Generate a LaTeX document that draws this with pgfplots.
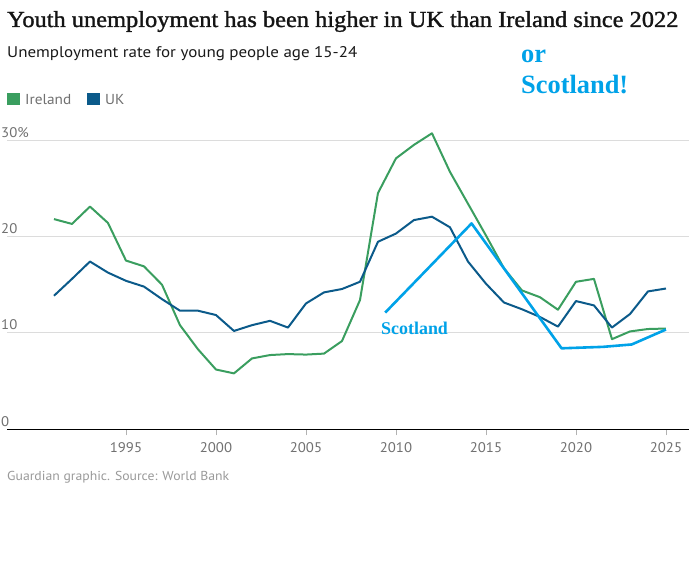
\documentclass[border=0pt]{standalone}
\usepackage{fontspec}
\setmainfont{PT Sans}
\newfontfamily\titlefont[FakeStretch=1.065,FakeBold=1.3]{Liberation Serif}
\newfontfamily\subfont[FakeStretch=1.1]{PT Sans}
\newfontfamily\footfont[FakeStretch=1.06]{PT Sans}
\newfontfamily\paintfont{Liberation Serif}
\usepackage{pgfplots}
\pgfplotsset{compat=1.18}
\definecolor{irl}{HTML}{3A9E5F}
\definecolor{uk}{HTML}{0B5A8A}
\definecolor{scot}{HTML}{00A2E8}
\definecolor{txtgray}{HTML}{707070}
\definecolor{footgray}{HTML}{999999}
\definecolor{gridgray}{HTML}{DCDCDC}
\begin{document}
\begin{tikzpicture}
\useasboundingbox (0bp,0bp) rectangle (689bp,561bp);
\node[anchor=base west, inner sep=0pt, text=black!92, font=\titlefont\fontsize{23}{23}\selectfont] at (7bp,534bp) {Youth unemployment has been higher in UK than Ireland since 2022};
\node[anchor=base west, inner sep=0pt, text=black!90, font=\subfont\fontsize{15.5}{15.5}\selectfont] at (7bp,503.7bp) {Unemployment rate for young people age 15-24};
\fill[irl] (7bp,456bp) rectangle (20bp,468bp);
\node[anchor=base west, inner sep=0pt, text=txtgray, font=\footfont\fontsize{14.5}{14.5}\selectfont] at (25bp,456bp) {Ireland};
\fill[uk] (87bp,456bp) rectangle (100bp,468bp);
\node[anchor=base west, inner sep=0pt, text=txtgray, font=\footfont\fontsize{14.5}{14.5}\selectfont] at (105bp,456bp) {UK};
\node[anchor=base west, inner sep=0pt, text=footgray, font=\footfont\fontsize{13}{13}\selectfont] at (7bp,80bp) {Guardian graphic. Source: World Bank};
\node[anchor=base west, inner sep=0pt, text=scot, font=\paintfont\bfseries\fontsize{26.5}{26.5}\selectfont] at (521bp,498bp) {or};
\node[anchor=base west, inner sep=0pt, text=scot, font=\paintfont\bfseries\fontsize{26.5}{26.5}\selectfont] at (521bp,467bp) {Scotland!};
\begin{axis}[
  at={(7bp,131.7bp)}, anchor=south west, scale only axis,
  width=682bp, height=298.9bp,
  xmin=1988.39, xmax=2026.28, ymin=0, ymax=31,
  clip=false,
  axis x line*=bottom, axis y line*=left,
  x axis line style={-, black, line width=1.4bp},
  y axis line style={draw=none},
  xtick={1995,2000,...,2025},
  ytick={0,10,20,30},
  yticklabels={0,10,20,30\%},
  ymajorgrids, grid style={gridgray, line width=1bp},
  xtick pos=bottom,
  x tick style={gray!60, line width=0.8bp},
  y tick style={draw=none},
  tick align=outside,
  major tick length=6bp,
  tick label style={font=\footfont\fontsize{14}{14}\selectfont, text=txtgray},
  /pgf/number format/assume math mode=true,
  /pgf/number format/1000 sep={},
  yticklabel style={anchor=base west, inner sep=0pt, xshift=0bp, yshift=3bp},
  xticklabel style={anchor=base, inner sep=0pt, yshift=-17bp},
]
\addplot[irl, line width=2bp, line join=round] coordinates {
(1991,21.8)(1992,21.3)(1993,23.1)(1994,21.4)(1995,17.5)(1996,16.9)(1997,15.0)(1998,10.8)(1999,8.3)(2000,6.2)(2001,5.8)(2002,7.35)(2003,7.7)(2004,7.8)(2005,7.75)(2006,7.85)(2007,9.15)(2008,13.4)(2009,24.5)(2010,28.1)(2011,29.5)(2012,30.7)(2013,26.7)(2014,23.4)(2015,20.1)(2016,16.7)(2017,14.4)(2018,13.7)(2019,12.4)(2020,15.3)(2021,15.6)(2022,9.35)(2023,10.15)(2024,10.4)(2025,10.45)};
\addplot[uk, line width=2bp, line join=round] coordinates {
(1991,13.85)(1992,15.6)(1993,17.4)(1994,16.25)(1995,15.4)(1996,14.8)(1997,13.5)(1998,12.3)(1999,12.3)(2000,11.85)(2001,10.2)(2002,10.8)(2003,11.25)(2004,10.55)(2005,13.05)(2006,14.2)(2007,14.55)(2008,15.3)(2009,19.45)(2010,20.3)(2011,21.7)(2012,22.05)(2013,20.95)(2014,17.4)(2015,15.1)(2016,13.15)(2017,12.45)(2018,11.65)(2019,10.65)(2020,13.3)(2021,12.85)(2022,10.55)(2023,11.95)(2024,14.3)(2025,14.6)};
\addplot[scot, line width=2.6bp, line join=round] coordinates {
(2009.4,12.1)(2014.2,21.35)(2019.2,8.4)(2021.5,8.55)(2023.1,8.8)(2025,10.35)};
\end{axis}
\node[anchor=base west, inner sep=0pt, text=scot, font=\paintfont\bfseries\fontsize{18}{18}\selectfont] at (381bp,226bp) {Scotland};
\end{tikzpicture}
\end{document}
